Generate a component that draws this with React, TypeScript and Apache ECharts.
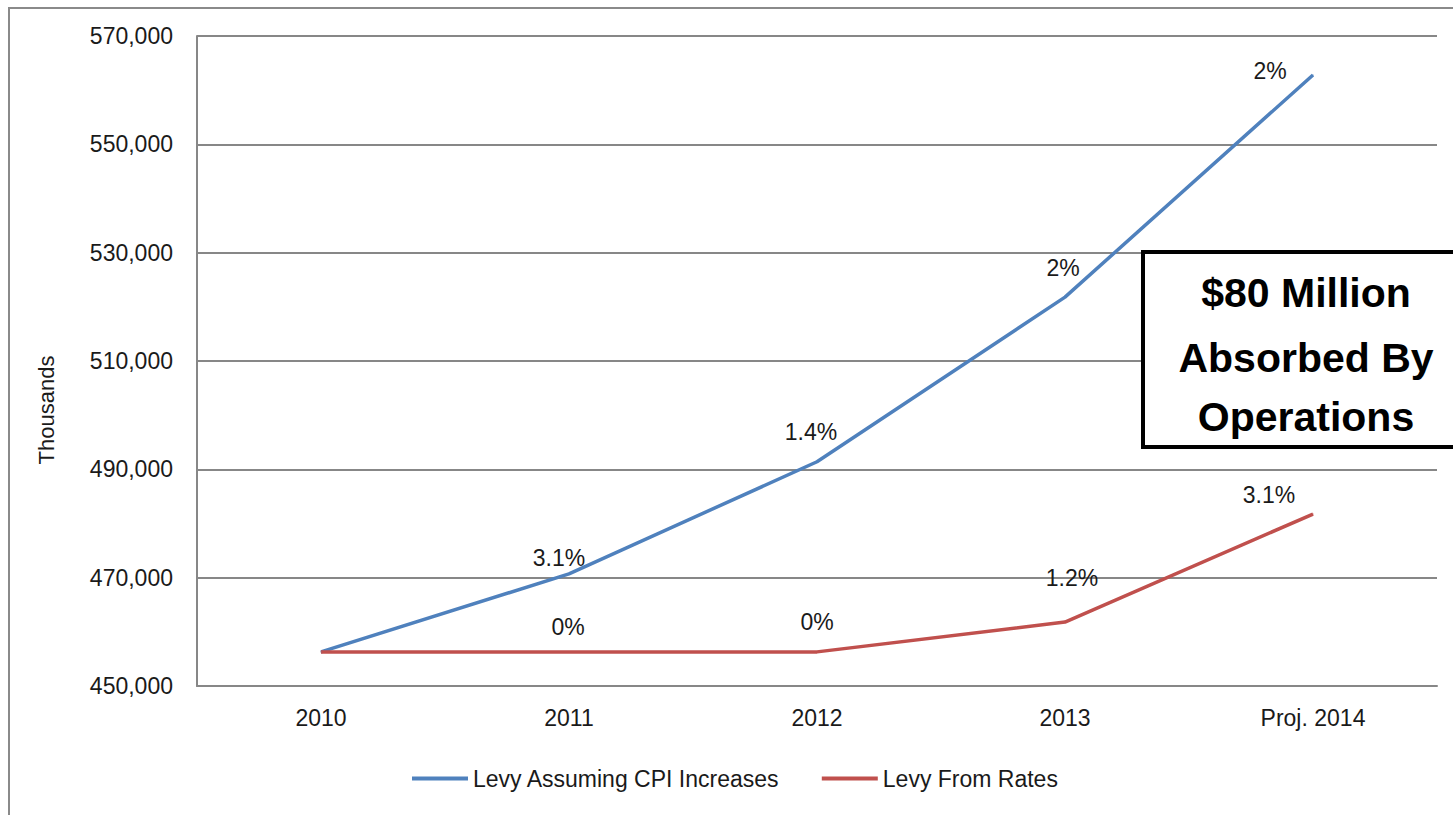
import React, { useEffect, useRef } from "react";
import * as echarts from "echarts";

const categories = ["2010", "2011", "2012", "2013", "Proj. 2014"];
const cpiLevy = [456300, 470700, 491400, 521800, 562800];
const ratesLevy = [456300, 456300, 456300, 461800, 481750];
const cpiLabels = ["", "3.1%", "1.4%", "2%", "2%"];
const ratesLabels = ["", "0%", "0%", "1.2%", "3.1%"];
const yTicks = { min: 450000, max: 570000, interval: 20000 };
const seriesNames = ["Levy Assuming CPI Increases", "Levy From Rates"];
const yAxisName = "Thousands";
const calloutLines = ["$80 Million", "Absorbed By", "Operations"];

// label offsets (layout only)
const cpiLabelOffsets = [[0, 0], [-10, -16], [-6, -30], [-2, -29], [-43, -4]];
const ratesLabelOffsets = [[0, 0], [-1, -25], [0, -30], [7, -44], [-44, -19]];

const FONT = "'Liberation Sans', Arial, sans-serif";
const BLUE = "#4F81BD";
const RED = "#C0504D";
const GRID = "#878787";

export default function App() {
  const ref = useRef<HTMLDivElement>(null);
  useEffect(() => {
    document.body.style.margin = "0";
    if (!ref.current) return;
    const chart = echarts.init(ref.current, null, { renderer: "svg" });
    const mkData = (vals: number[], labels: string[], offs: number[][]) =>
      vals.map((v, i) => ({
        value: v,
        label: {
          show: labels[i] !== "",
          formatter: labels[i],
          position: "inside",
          offset: offs[i],
        },
      }));
    chart.setOption({
      animation: false,
      backgroundColor: "#ffffff",
      textStyle: { fontFamily: FONT },
      grid: { left: 197, right: 16, top: 36, bottom: 129, containLabel: false },
      legend: {
        left: 407,
        top: 762,
        icon: "rect",
        itemWidth: 56,
        itemHeight: 4,
        itemGap: 42,
        textStyle: { fontSize: 23, color: "#1a1a1a", fontFamily: FONT },
        data: seriesNames,
      },
      xAxis: {
        type: "category",
        data: categories,
        boundaryGap: true,
        axisLine: { show: true, lineStyle: { color: GRID, width: 2 } },
        axisTick: { show: false },
        axisLabel: { fontSize: 23, color: "#1a1a1a", margin: 20, fontFamily: FONT },
        splitLine: { show: false },
      },
      yAxis: {
        type: "value",
        min: yTicks.min,
        max: yTicks.max,
        interval: yTicks.interval,
        axisLine: { show: true, lineStyle: { color: GRID, width: 2 } },
        axisTick: { show: false },
        axisLabel: {
          fontSize: 23,
          color: "#1a1a1a",
          margin: 24,
          fontFamily: FONT,
          formatter: (v: number) => v.toLocaleString("en-US"),
        },
        splitLine: { show: true, lineStyle: { color: GRID, width: 2 } },
      },
      series: [
        {
          name: seriesNames[0],
          type: "line",
          data: mkData(cpiLevy, cpiLabels, cpiLabelOffsets),
          symbol: "circle",
          symbolSize: 1,
          showSymbol: true,
          lineStyle: { color: BLUE, width: 3.5 },
          itemStyle: { color: BLUE },
          label: { fontSize: 23, color: "#1a1a1a", fontFamily: FONT },
          z: 3,
        },
        {
          name: seriesNames[1],
          type: "line",
          data: mkData(ratesLevy, ratesLabels, ratesLabelOffsets),
          symbol: "circle",
          symbolSize: 1,
          showSymbol: true,
          lineStyle: { color: RED, width: 3.5 },
          itemStyle: { color: RED },
          label: { fontSize: 23, color: "#1a1a1a", fontFamily: FONT },
          z: 3,
        },
      ],
      graphic: [
        {
          type: "polyline",
          shape: { points: [[9, 815], [9, 8], [1453, 8]] },
          style: { stroke: "#8a8a8a", lineWidth: 2, fill: null },
          silent: true,
        },
        {
          type: "text",
          x: 46,
          y: 410,
          rotation: Math.PI / 2,
          style: {
            text: yAxisName,
            fontSize: 22,
            fontFamily: FONT,
            fill: "#1a1a1a",
            align: "center",
            verticalAlign: "middle",
          },
        },
        {
          type: "rect",
          shape: { x: 1143, y: 252, width: 330, height: 195 },
          style: { fill: "#ffffff", stroke: "#000000", lineWidth: 4 },
          z: 100,
        },
        ...calloutLines.map((t, i) => ({
          type: "text",
          x: 1306,
          y: [293, 358, 417][i],
          z: 101,
          style: {
            text: t,
            fontSize: 41,
            fontWeight: "bold",
            fontFamily: FONT,
            fill: "#000000",
            align: "center",
            verticalAlign: "middle",
          },
        })),
      ],
    });
    return () => chart.dispose();
  }, []);
  return <div ref={ref} style={{ width: 1453, height: 815 }} />;
}
